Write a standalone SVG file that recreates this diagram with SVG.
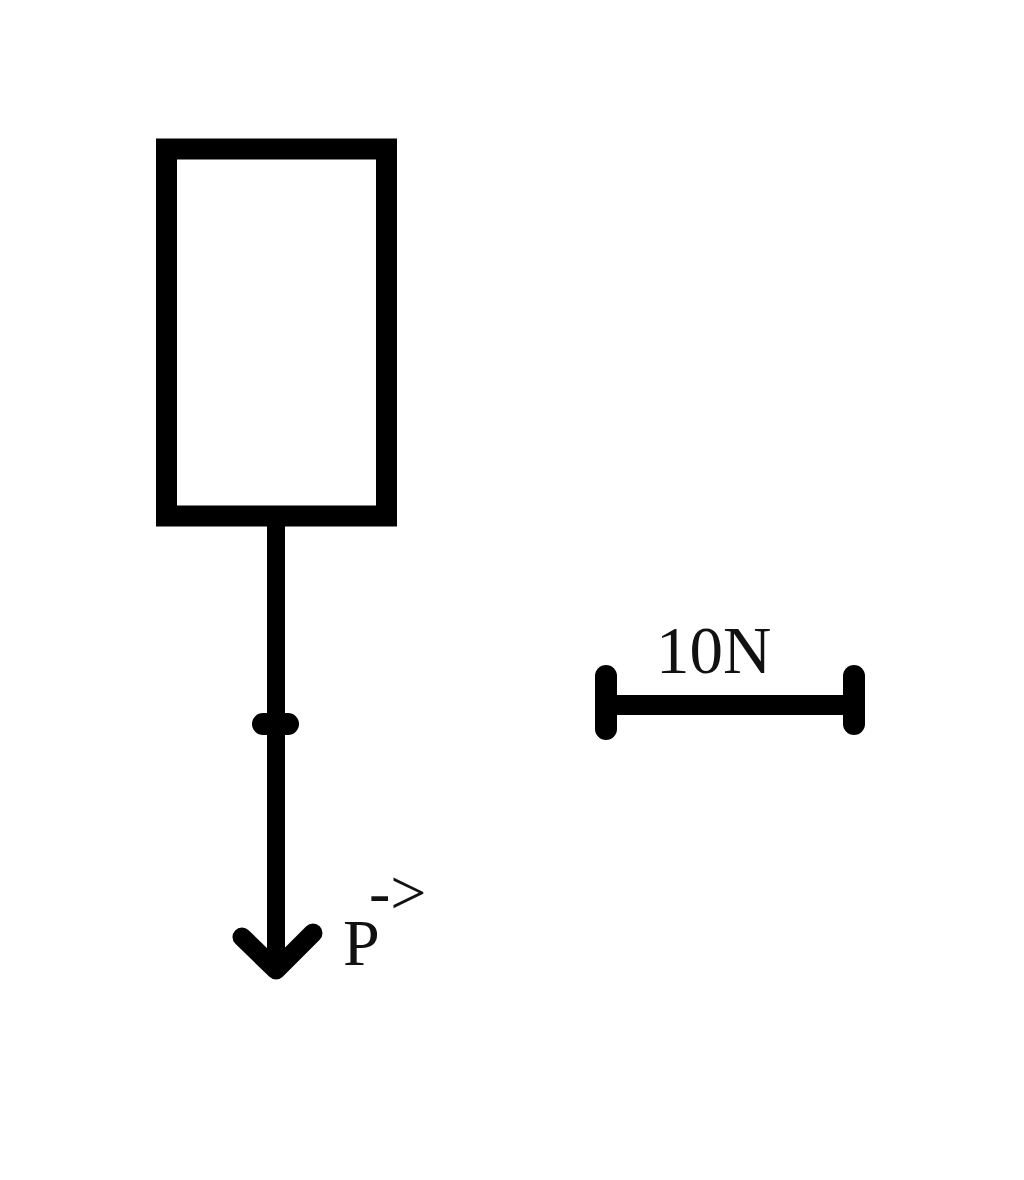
<svg xmlns="http://www.w3.org/2000/svg" width="1024" height="1180" viewBox="0 0 1024 1180">
<style>
.s{stroke:#000;fill:none;stroke-linecap:round;stroke-linejoin:round}
.t{font-family:"Liberation Serif",serif;fill:#111}
</style>
<rect x="0" y="0" width="1024" height="1180" fill="#fff"/>
<g id="block">
<rect x="166.5" y="149" width="220" height="367" fill="#fff" stroke="#000" stroke-width="21"/>
</g>
<g id="connectors">
<line class="s" x1="276" y1="520" x2="276" y2="968" stroke-width="18" stroke-linecap="butt"/>
<line class="s" x1="263" y1="724" x2="288" y2="724" stroke-width="22"/>
<polyline class="s" points="242,937 276,970 313,933" stroke-width="19"/>
</g>
<g id="label-P">
<text class="t" x="343" y="965" font-size="66">P</text>
<text class="t" x="369" y="914" font-size="64">-&gt;</text>
</g>
<g id="scale">
<line class="s" x1="606" y1="705" x2="854" y2="705" stroke-width="20" stroke-linecap="butt"/>
<line class="s" x1="606" y1="676" x2="606" y2="729" stroke-width="22"/>
<line class="s" x1="854" y1="676" x2="854" y2="724" stroke-width="22"/>
<text class="t" x="656" y="673" font-size="67">10N</text>
</g>
</svg>
